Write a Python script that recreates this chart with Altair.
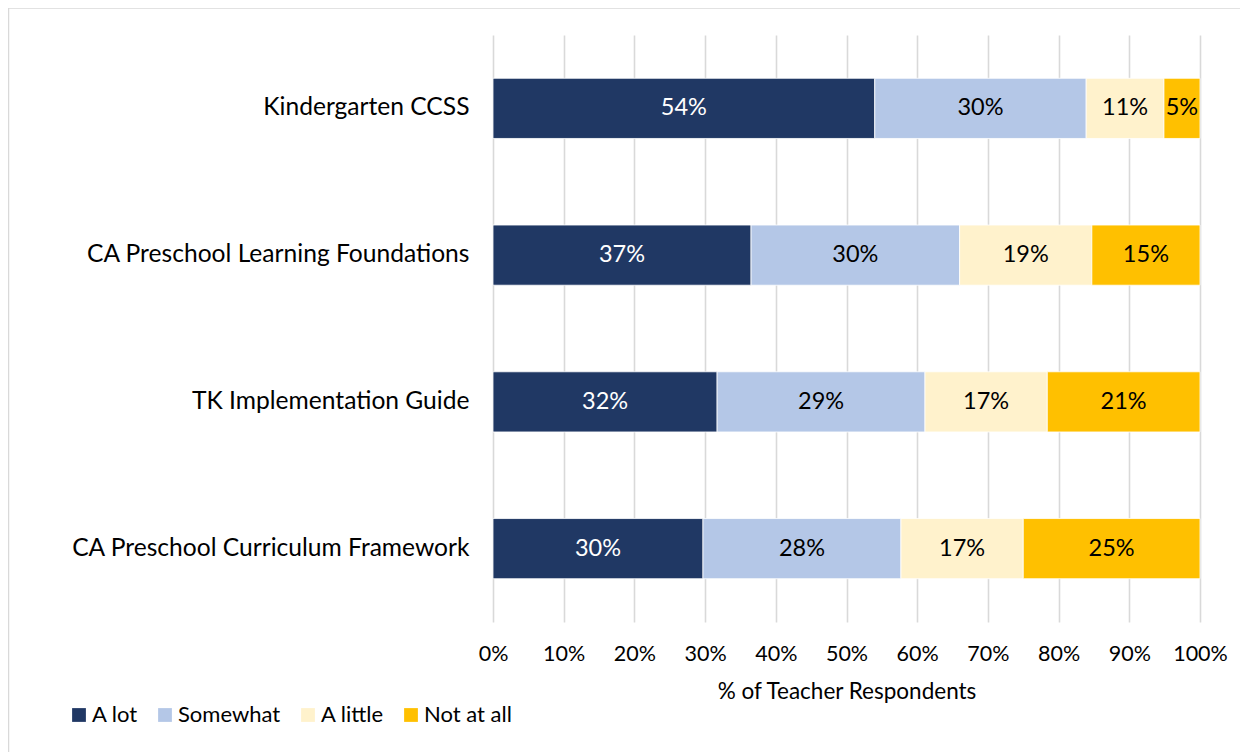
import altair as alt
import pandas as pd

categories = [
    "Kindergarten CCSS",
    "CA Preschool Learning Foundations",
    "TK Implementation Guide",
    "CA Preschool Curriculum Framework",
]
levels = ["A lot", "Somewhat", "A little", "Not at all"]
colors = ["#203864", "#B4C7E7", "#FFF2CC", "#FFC000"]
text_colors = ["#FFFFFF", "#000000", "#000000", "#000000"]

a_lot = [54.0, 36.5, 31.7, 29.7]
somewhat = [29.9, 29.5, 29.4, 28.0]
a_little = [11.0, 18.7, 17.3, 17.3]
not_at_all = [5.1, 15.3, 21.6, 25.0]

lbl_a_lot = ["54%", "37%", "32%", "30%"]
lbl_somewhat = ["30%", "30%", "29%", "28%"]
lbl_a_little = ["11%", "19%", "17%", "17%"]
lbl_not_at_all = ["5%", "15%", "21%", "25%"]

x_ticks = [0, 10, 20, 30, 40, 50, 60, 70, 80, 90, 100]

series = [a_lot, somewhat, a_little, not_at_all]
labels = [lbl_a_lot, lbl_somewhat, lbl_a_little, lbl_not_at_all]
rows = []
for li, lev in enumerate(levels):
    for ci, cat in enumerate(categories):
        rows.append({
            "category": cat,
            "level": lev,
            "order": li,
            "value": series[li][ci],
            "label": labels[li][ci],
            "tcolor": text_colors[li],
        })
df = pd.DataFrame(rows)

FONT = "Lato"

base = alt.Chart(df).transform_stack(
    stack="value", groupby=["category"], as_=["v0", "v1"],
    sort=[alt.SortField("order", order="ascending")],
).transform_calculate(mid="(datum.v0 + datum.v1) / 2")

y_enc = alt.Y("category:N", sort=categories, title=None,
              scale=alt.Scale(paddingInner=0.59, paddingOuter=0.295),
              axis=alt.Axis(labelFontSize=24.6, labelFont=FONT, labelColor="#000000",
                            labelPadding=24,
                            ticks=False, domain=False, labelLimit=600))

bars = base.mark_bar(stroke="#FFFFFF", strokeWidth=0.8).encode(
    x=alt.X("v0:Q", scale=alt.Scale(domain=[0, 100]),
            title="% of Teacher Respondents",
            axis=alt.Axis(values=x_ticks, labelExpr="datum.value + '%'",
                          labelFontSize=21.5, labelFont=FONT, labelColor="#000000",
                          labelPadding=21, labelFlush=False, labelOverlap=False,
                          titleFontSize=22.5, titleFont=FONT,
                          titleFontWeight="normal", titleColor="#000000", titlePadding=16,
                          ticks=False, domain=False, grid=True, gridColor="#D9D9D9",
                          gridWidth=1.6)),
    x2="v1:Q",
    y=y_enc,
    color=alt.Color("level:N", sort=levels,
                    scale=alt.Scale(domain=levels, range=colors),
                    legend=alt.Legend(title=None, orient="none", direction="horizontal",
                                      legendX=-425, legendY=669, symbolType="square",
                                      symbolSize=190, symbolStrokeWidth=0,
                                      labelFontSize=22, labelFont=FONT, labelColor="#000000",
                                      columnPadding=16, labelOffset=2)),
    order=alt.Order("order:Q"),
)

texts = base.mark_text(fontSize=23.5, font=FONT).encode(
    x=alt.X("mid:Q"),
    y=alt.Y("category:N", sort=categories),
    text="label:N",
    color=alt.Color("tcolor:N", scale=None),
)

border = alt.Chart(pd.DataFrame({"d": [0]})).mark_rect(
    fill=None, stroke="#D9D9D9", strokeWidth=1.5
).encode(x=alt.value(-484.5), x2=alt.value(800), y=alt.value(-27), y2=alt.value(800))

chart = alt.layer(border, bars, texts).properties(
    width=707, height=587,
    autosize=alt.AutoSizeParams(type="none"),
    padding={"left": 485, "top": 27, "right": 40, "bottom": 130},
).configure_view(stroke=None)

chart.save("out.html", embed_options={"renderer": "svg", "actions": False})
